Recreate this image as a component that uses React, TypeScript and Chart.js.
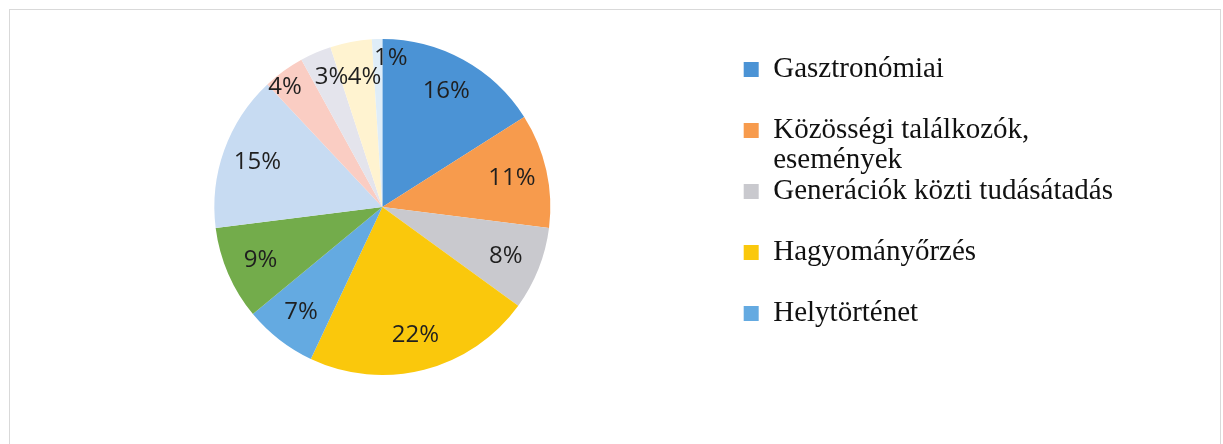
import React, { useEffect, useRef } from "react";
import { Chart, registerables } from "chart.js";

Chart.register(...registerables);

// ---- data ----
const categories: (string | string[])[] = [
  "Gasztronómiai",
  ["Közösségi találkozók,", "események"],
  "Generációk közti tudásátadás",
  "Hagyományőrzés",
  "Helytörténet",
  "",
  "",
  "",
  "",
  "",
  "",
];
const shares = [16, 11, 8, 22, 7, 9, 15, 4, 3, 4, 1];
const sliceColors = [
  "#4B93D5",
  "#F79B4D",
  "#C9C9CE",
  "#FAC80C",
  "#64AAE1",
  "#73AC4B",
  "#C7DBF2",
  "#FACDC3",
  "#E4E4EC",
  "#FFF3D0",
  "#DFEDF8",
];
const visibleLegendCount = 5;

// label nudges for crowded small slices: [angle offset in degrees, radius factor]
const labelNudges: Record<number, [number, number]> = {
  7: [-3, 0.92],
  8: [2, 0.83],
  9: [3, 0.78],
  10: [5, 0.89],
};

const pctLabels = {
  id: "pctLabels",
  afterDatasetsDraw(chart: any) {
    const ctx = chart.ctx;
    const meta = chart.getDatasetMeta(0);
    const values = chart.data.datasets[0].data as number[];
    ctx.save();
    ctx.font = "24px 'Open Sans'";
    ctx.fillStyle = "#1f1f1f";
    ctx.textAlign = "center";
    ctx.textBaseline = "middle";
    meta.data.forEach((arc: any, i: number) => {
      const p = arc.getProps(["x", "y", "startAngle", "endAngle", "outerRadius"], true);
      const nudge = labelNudges[i] || [0, 0.79];
      const a = (p.startAngle + p.endAngle) / 2 + (nudge[0] * Math.PI) / 180;
      const r = p.outerRadius * nudge[1];
      ctx.fillText(values[i] + "%", p.x + r * Math.cos(a), p.y + r * Math.sin(a));
    });
    ctx.restore();
  },
};

function PieChart() {
  const ref = useRef<HTMLCanvasElement | null>(null);
  useEffect(() => {
    if (!ref.current) return;
    const baseGen = (Chart as any).overrides.pie.plugins.legend.labels.generateLabels;
    const chart = new Chart(ref.current, {
      type: "pie",
      data: {
        labels: categories as any,
        datasets: [
          {
            data: shares,
            backgroundColor: sliceColors,
            borderWidth: 0,
          },
        ],
      },
      options: {
        animation: false,
        responsive: true,
        maintainAspectRatio: false,
        layout: { padding: { left: 22, right: 100, top: 39, bottom: 69 } },
        plugins: {
          tooltip: { enabled: false },
          legend: {
            position: "right",
            align: "center",
            labels: {
              boxWidth: 15,
              boxHeight: 15,
              padding: 1,
              color: "#111",
              font: { family: "'Liberation Serif', 'Times New Roman', serif", size: 29, lineHeight: 30 / 29 },
              generateLabels: (chart: any) =>
                baseGen(chart).map((it: any) => {
                  const t = Array.isArray(it.text) ? it.text : [it.text];
                  return { ...it, text: t.length < 2 ? [...t, ""] : t };
                }),
              filter: (item: any) => item.index < visibleLegendCount,
            },
          },
        },
      },
      plugins: [pctLabels],
    });
    return () => chart.destroy();
  }, []);
  return <canvas ref={ref} />;
}

export default function App() {
  return (
    <div
      style={{
        position: "absolute",
        left: 0,
        top: 0,
        width: 1223,
        height: 444,
        background: "#fff",
        overflow: "hidden",
      }}
    >
      <div
        style={{
          position: "absolute",
          left: 9,
          top: 9,
          width: 1210,
          height: 480,
          border: "1px solid #d9d9d9",
        }}
      />
      <div style={{ position: "absolute", left: 0, top: 0, width: 1223, height: 444 }}>
        <PieChart />
      </div>
    </div>
  );
}
